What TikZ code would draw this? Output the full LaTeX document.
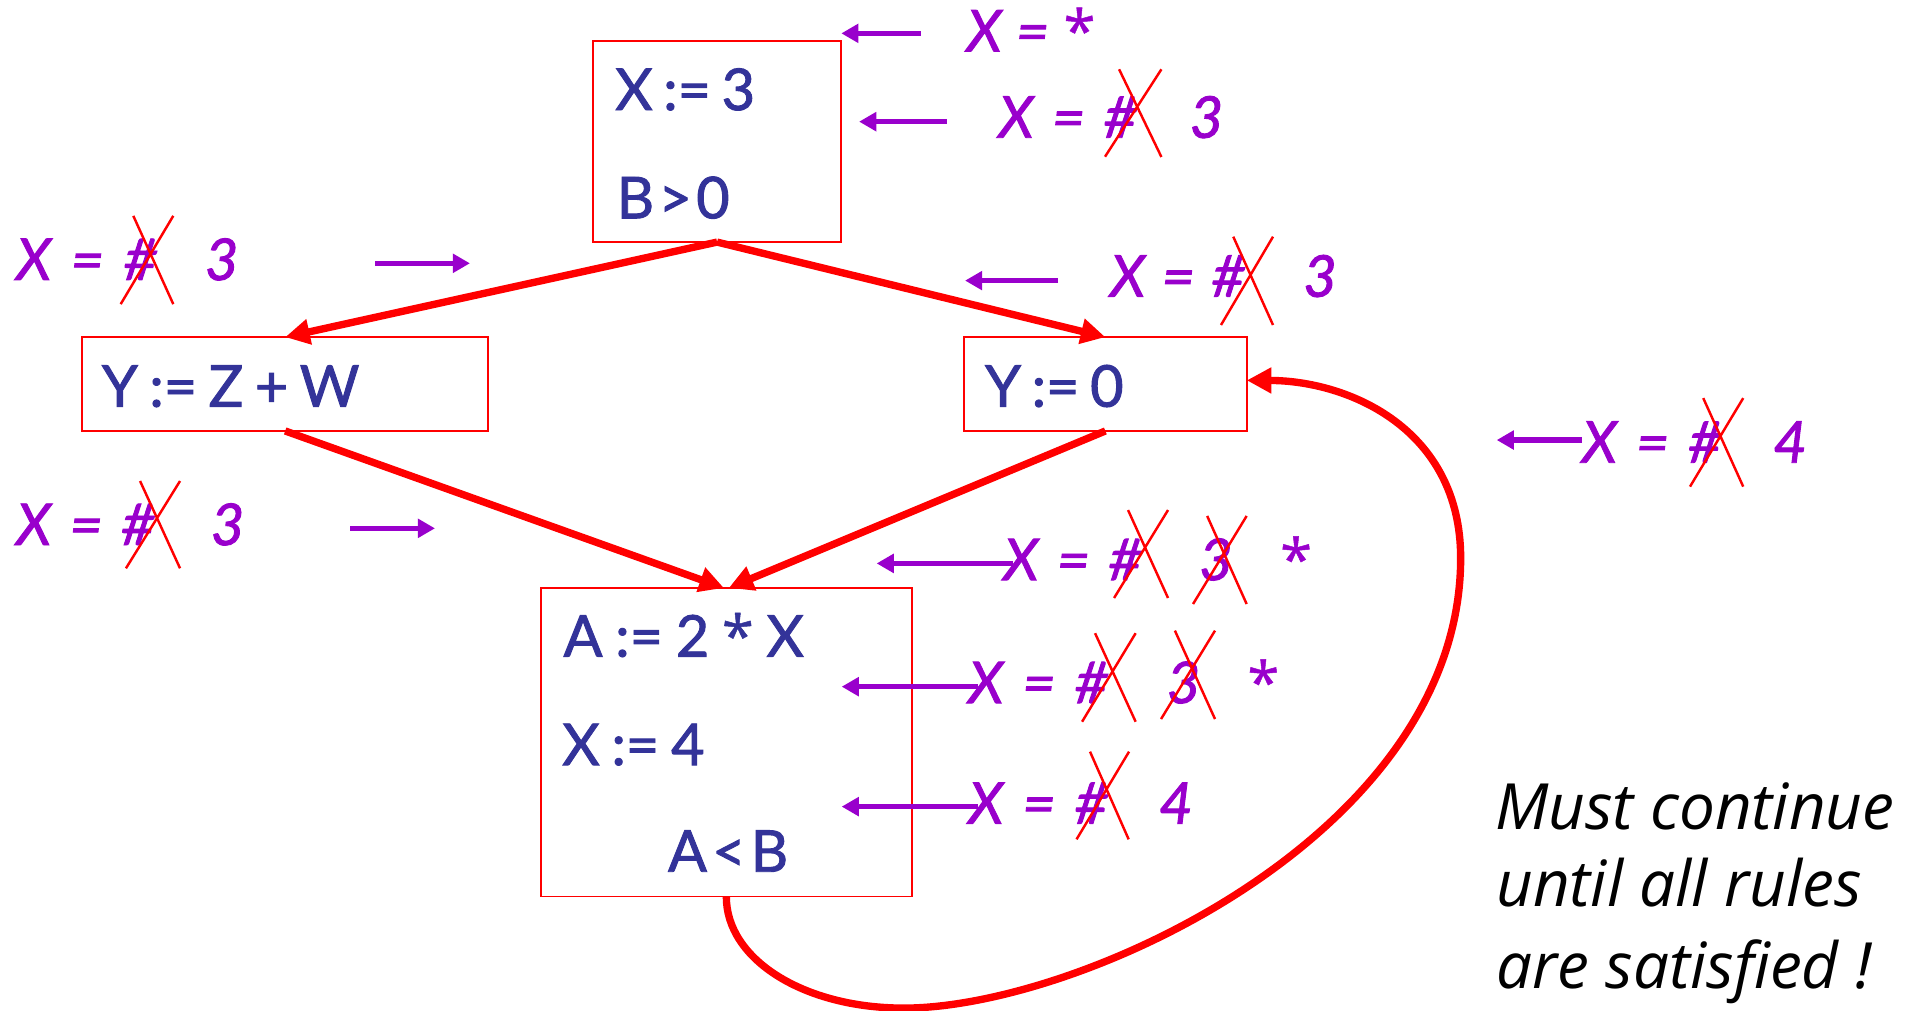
\documentclass[tikz,border=0pt]{standalone}
\usepackage{fontspec}
\setmainfont{Lato}
\newfontfamily\codefont{Lato}[FakeBold=1.6]
\newfontfamily\notefont{Open Sans}
\newfontfamily\astfont{Open Sans}[FakeBold=0.8]
\usetikzlibrary{arrows.meta}
\definecolor{boxblue}{HTML}{333399}
\definecolor{lblpurple}{HTML}{9900CC}
\newcommand{\fitw}[2]{\makebox[#1pt][s]{#2}}
\newcommand{\bigast}{{\astfont\upshape *}}
\begin{document}
\begin{tikzpicture}[x=1pt,y=-1pt,
  cfgbox/.style={draw=red, line width=1.5pt, inner sep=0pt, outer sep=0pt, anchor=north west},
  code/.style={text=boxblue, font=\codefont\fontsize{47}{52}\selectfont, inner sep=0pt, anchor=base west},
  lbl/.style={text=lblpurple, font=\codefont\itshape\fontsize{47}{52}\selectfont, inner sep=0pt, anchor=base west},
  flow/.style={draw=red, line width=6pt, -{Triangle[length=20pt,width=20pt]}},
  hint/.style={draw=lblpurple, line width=4.5pt, -{Triangle[length=14pt,width=15pt]}},
  strike/.style={draw=red, line width=2pt},
  note/.style={text=black, font=\notefont\itshape\fontsize{52}{60}\selectfont, inner sep=0pt, anchor=base west}]
\useasboundingbox (0,0) rectangle (1568,824);

% CFG boxes
\node[cfgbox, minimum width=202pt, minimum height=164pt] (b1) at (483.7,33.4) {};
\node[cfgbox, minimum width=331.3pt, minimum height=76.5pt] (b2) at (66.9,274.9) {};
\node[cfgbox, minimum width=230.6pt, minimum height=76.5pt] (b3) at (786,274.9) {};
\node[cfgbox, minimum width=302.3pt, minimum height=251.6pt] (b4) at (441.1,479.4) {};

% code text
\node[code] (t1) at (501.5,89.7) {\fitw{114}{X\hfil:=\hfil3}};
\node[code] (t2) at (502.8,178) {\fitw{92}{B\hfil>\hfil0}};
\node[code] (t3) at (82.9,331.6) {\fitw{210}{Y\hfil:=\hfil Z\hfil+\hfil W}};
\node[code] (t4) at (803,331.6) {\fitw{113}{Y\hfil:=\hfil0}};
\node[code] (t5) at (459.3,535.4) {\fitw{196}{A\hfil:=\hfil2\hfil\bigast\hfil X}};
\node[code] (t6) at (458.3,623.8) {\fitw{116}{X\hfil:=\hfil4}};
\node[code] (t7) at (544.5,710.8) {\fitw{98}{A\hfil<\hfil B}};

% control flow edges
\draw[flow] (b1.south) -- (b2.north);
\draw[flow] (b1.south) -- (b3.north);
\draw[flow] (b2.south) -- ([xshift=-2pt]b4.north);
\draw[flow] (b3.south) -- ([xshift=2pt]b4.north);
\draw[flow] (b4.south) .. controls (592,782) and (655,822) .. (737,822)
  .. controls (880,822) and (1191,680) .. (1191,455)
  .. controls (1191,350) and (1100,310.4) .. ([yshift=3pt]b3.east);

% labels
\node[lbl] (l1) at (788,42) {\fitw{105}{X\hfil=\hfil\bigast}};
\coordinate (a1s) at (750.7,27.2); \coordinate (a1e) at (686,27.2);
\draw[hint] (a1s) -- (a1e);

\node[lbl] (l2) at (814,112.3) {\fitw{113}{X\hfil=\hfil\#}};
\node[lbl] (l2n) at (970,112.3) {3};
\draw[strike] (912.5,56.5) -- (947,128) (947,56.5) -- (901,127.8);
\coordinate (a2s) at (772,99.2); \coordinate (a2e) at (700.5,99.2);
\draw[hint] (a2s) -- (a2e);

\node[lbl] (l3) at (13,228.3) {\fitw{115}{X\hfil=\hfil\#}};
\node[lbl] (l3n) at (167,228.3) {3};
\draw[strike] (108.7,176) -- (141.3,248) (141.3,176) -- (98.4,248);
\coordinate (a3s) at (305.8,214.7); \coordinate (a3e) at (383.2,214.7);
\draw[hint] (a3s) -- (a3e);

\node[lbl] (l4) at (905,241.9) {\fitw{110}{X\hfil=\hfil\#}};
\node[lbl] (l4n) at (1062.6,241.9) {3};
\draw[strike] (1005.6,193) -- (1038,265) (1038,193) -- (995.6,265);
\coordinate (a4s) at (862.7,228.8); \coordinate (a4e) at (786.9,228.8);
\draw[hint] (a4s) -- (a4e);

\node[lbl] (l5) at (13,444.4) {\fitw{113}{X\hfil=\hfil\#}};
\node[lbl] (l5n) at (171.8,444.4) {3};
\draw[strike] (114.2,392.2) -- (146.8,463.4) (146.8,392.2) -- (102.7,463.4);
\coordinate (a5s) at (285.4,430.8); \coordinate (a5e) at (354.7,430.8);
\draw[hint] (a5s) -- (a5e);

\node[lbl] (l6) at (1289.7,377.3) {\fitw{114}{X\hfil=\hfil\#}};
\node[lbl] (l6n) at (1445.8,377.3) {4};
\draw[strike] (1388.8,324.6) -- (1421.4,396.8) (1421.4,324.6) -- (1378,396.8);
\coordinate (a6s) at (1289.7,358.8); \coordinate (a6e) at (1220.4,358.8);
\draw[hint] (a6s) -- (a6e);

\node[lbl] (l7) at (818,473) {\fitw{113}{X\hfil=\hfil\#}};
\node[lbl] (l7n) at (977.7,473) {3};
\node[lbl] (l7s) at (1043.7,473) {\bigast};
\draw[strike] (919.8,415.9) -- (952.4,487.6) (952.4,415.9) -- (908.4,487.6);
\draw[strike] (984.3,420.7) -- (1016.5,492.5) (1016.5,420.7) -- (972.8,492.5);
\coordinate (a7s) at (826,459.4); \coordinate (a7e) at (714.8,459.4);
\draw[hint] (a7s) -- (a7e);

\node[lbl] (l8) at (789.4,573.3) {\fitw{114}{X\hfil=\hfil\#}};
\node[lbl] (l8n) at (951.3,573.3) {3};
\node[lbl] (l8s) at (1017,573.3) {\bigast};
\draw[strike] (892.9,516.3) -- (926,588.5) (926,516.3) -- (882.3,588.5);
\draw[strike] (958,514.2) -- (990.7,586.3) (990.7,514.2) -- (946.7,586.3);
\coordinate (a8s) at (797.6,559.9); \coordinate (a8e) at (686.3,559.9);
\draw[hint] (a8s) -- (a8e);

\node[lbl] (l9) at (789.4,671.7) {\fitw{114}{X\hfil=\hfil\#}};
\node[lbl] (l9n) at (945,671.7) {4};
\draw[strike] (888.8,612.9) -- (920.3,684.4) (920.6,612.9) -- (877.8,684.4);
\coordinate (a9s) at (797.6,657.7); \coordinate (a9e) at (686.3,657.7);
\draw[hint] (a9s) -- (a9e);

% note
\node[note] (m1) at (1219,676.2) {Must continue};
\node[note] (m2) at (1220,739.3) {until all rules};
\node[note] (m3) at (1220,805.6) {are satisfied !};
\end{tikzpicture}
\end{document}
